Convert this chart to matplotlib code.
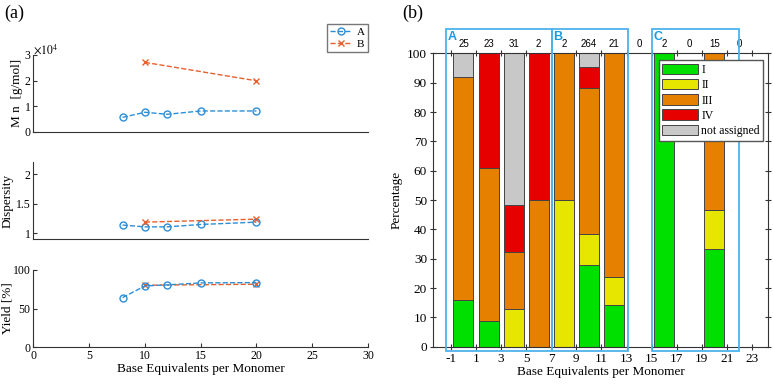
import matplotlib

matplotlib.use("Agg")
import matplotlib.pyplot as plt
from matplotlib.patches import Rectangle
import numpy as np

plt.rcParams["font.family"] = ["Liberation Serif", "DejaVu Serif"]
plt.rcParams["mathtext.fontset"] = "stix"
plt.rcParams["axes.unicode_minus"] = False

# panel (a) data
eq_a = [8, 10, 12, 15, 20]
mn_a = [5600, 7600, 6800, 8100, 8100]
disp_a = [1.14, 1.11, 1.11, 1.15, 1.19]
yield_a = [64.2, 79.3, 80.6, 83.2, 83.6]
eq_b = [10, 20]
mn_b = [27100, 19900]
disp_b = [1.19, 1.24]
yield_b = [80.2, 81.5]

# panel (b) data
bar_pos = [0, 2, 4, 6, 8, 10, 12, 16, 20]
class_I = [16.0, 8.7, 0, 0, 0, 28.0, 14.3, 100, 33.3]
class_II = [0, 0, 12.9, 0, 50.0, 10.3, 9.5, 0, 13.4]
class_III = [76.0, 52.2, 19.4, 50.0, 50.0, 50.0, 76.2, 0, 53.3]
class_IV = [0, 39.1, 16.1, 50.0, 0, 7.2, 0, 0, 0]
class_na = [8.0, 0, 51.6, 0, 0, 4.5, 0, 0, 0]
count_pos = [0, 2, 4, 6, 8, 10, 12, 14, 16, 18, 20, 22]
counts = [25, 23, 31, 2, 2, 264, 21, 0, 2, 0, 15, 0]
groups = ["A", "B", "C"]
group_span = [(-1.4, 7.05), (7.05, 13.15), (15.0, 21.95)]

blue = "#2c8fd6"
orange = "#e8602c"
gbox = "#4db3ea"

fig = plt.figure(figsize=(7.73, 3.87), dpi=100)

ax1 = fig.add_axes([0.0431, 0.6597, 0.4330, 0.1983])
ax2 = fig.add_axes([0.0431, 0.3832, 0.4330, 0.1974])
ax3 = fig.add_axes([0.0431, 0.1026, 0.4330, 0.2000])

for ax in (ax1, ax2, ax3):
    for s in ("top", "right"):
        ax.spines[s].set_visible(False)
    for s in ("left", "bottom"):
        ax.spines[s].set_color("#333333")
    ax.set_xlim(0, 30)
    ax.tick_params(direction="in", labelsize=8.5, length=3, color="#333333", pad=2)

kw_a = dict(color=blue, ls="--", marker="o", mfc="none", ms=5, lw=1)
kw_b = dict(color=orange, ls="--", marker="x", ms=4, lw=1)

ax1.plot(eq_a, mn_a, label="A", **kw_a)
ax1.plot(eq_b, mn_b, label="B", **kw_b)
ax1.set_ylim(0, 30000)
ax1.set_yticks([0, 10000, 20000, 30000])
ax1.set_yticklabels(["0", "1", "2", "3"])
ax1.set_xticks([])
ax1.set_ylabel("M n  [g/mol]", fontsize=9.5)
ax1.yaxis.set_label_coords(-0.031, 0.5)
ax1.text(0.0, 1.02, r"$\times10^4$", transform=ax1.transAxes, fontsize=8.5)
ax1.legend(loc="upper right", bbox_to_anchor=(1.0, 1.40), fontsize=8,
           handlelength=2.0, handletextpad=0.4, borderpad=0.3, labelspacing=0.15,
           borderaxespad=0, fancybox=False, edgecolor="#555555")

ax2.plot(eq_a, disp_a, **kw_a)
ax2.plot(eq_b, disp_b, **kw_b)
ax2.set_ylim(0.91, 2.2)
ax2.set_yticks([1, 1.5, 2])
ax2.set_yticklabels(["1", "1.5", "2"])
ax2.set_xticks([])
ax2.set_ylabel("Dispersity", fontsize=9.5)
ax2.yaxis.set_label_coords(-0.058, 0.5)

ax3.plot(eq_b, yield_b, **kw_b)
ax3.plot(eq_a, yield_a, **kw_a)
ax3.set_ylim(0, 100)
ax3.set_yticks([0, 50, 100])
ax3.set_xticks(range(0, 31, 5))
ax3.set_ylabel("Yield [%]", fontsize=9.5)
ax3.yaxis.set_label_coords(-0.058, 0.5)
ax3.set_xlabel("Base Equivalents per Monomer", fontsize=9.5, labelpad=1)

# panel (b)
axb = fig.add_axes([0.5606, 0.1041, 0.4333, 0.7581])
colors = ["#00e000", "#e6e600", "#e68000", "#e60000", "#c8c8c8"]
names = ["I", "II", "III", "IV", "not assigned"]
bottom = np.zeros(len(bar_pos))
for vals, c, n in zip([class_I, class_II, class_III, class_IV, class_na], colors, names):
    axb.bar(bar_pos, vals, width=1.6, bottom=bottom, color=c, edgecolor="#444444",
            linewidth=0.7, label=n, zorder=2)
    bottom += np.array(vals)

axb.set_xlim(-2.4, 24.3)
axb.set_ylim(0, 100)
axb.set_xticks(range(-1, 24, 2))
axb.set_yticks(range(0, 101, 10))
axb.tick_params(direction="inout", labelsize=9.5, length=5, color="#333333",
                top=True, right=True, pad=2)
for s in axb.spines.values():
    s.set_color("#333333")
axb.set_ylabel("Percentage", fontsize=9.5)
axb.yaxis.set_label_coords(-0.093, 0.5)
axb.set_xlabel("Base Equivalents per Monomer", fontsize=9.5, labelpad=1)

for p, c in zip(count_pos, counts):
    axb.text(p, 101.5, str(c), ha="center", va="bottom", fontsize=7,
             family="Liberation Sans")

for g, (x0, x1) in zip(groups, group_span):
    axb.add_patch(Rectangle((x0, -1.5), x1 - x0, 109.7, fill=False,
                            edgecolor=gbox, lw=1.3, clip_on=False, zorder=5))
    axb.text(x0 + 0.12, 105.4, g, color="#1a9be0", fontsize=9, fontweight="bold",
             family="Liberation Sans", ha="left", va="center")

axb.legend(loc="upper right", bbox_to_anchor=(0.985, 0.977), fontsize=8.5,
           handlelength=3.0, handleheight=1.0, borderpad=0.3, labelspacing=0.25,
           handletextpad=0.3, borderaxespad=0, fancybox=False,
           edgecolor="#555555", framealpha=1)

fig.text(0.006, 0.965, "(a)", fontsize=13, va="center")
fig.text(0.52, 0.965, "(b)", fontsize=13, va="center")

fig.savefig("out.png", dpi=100)
